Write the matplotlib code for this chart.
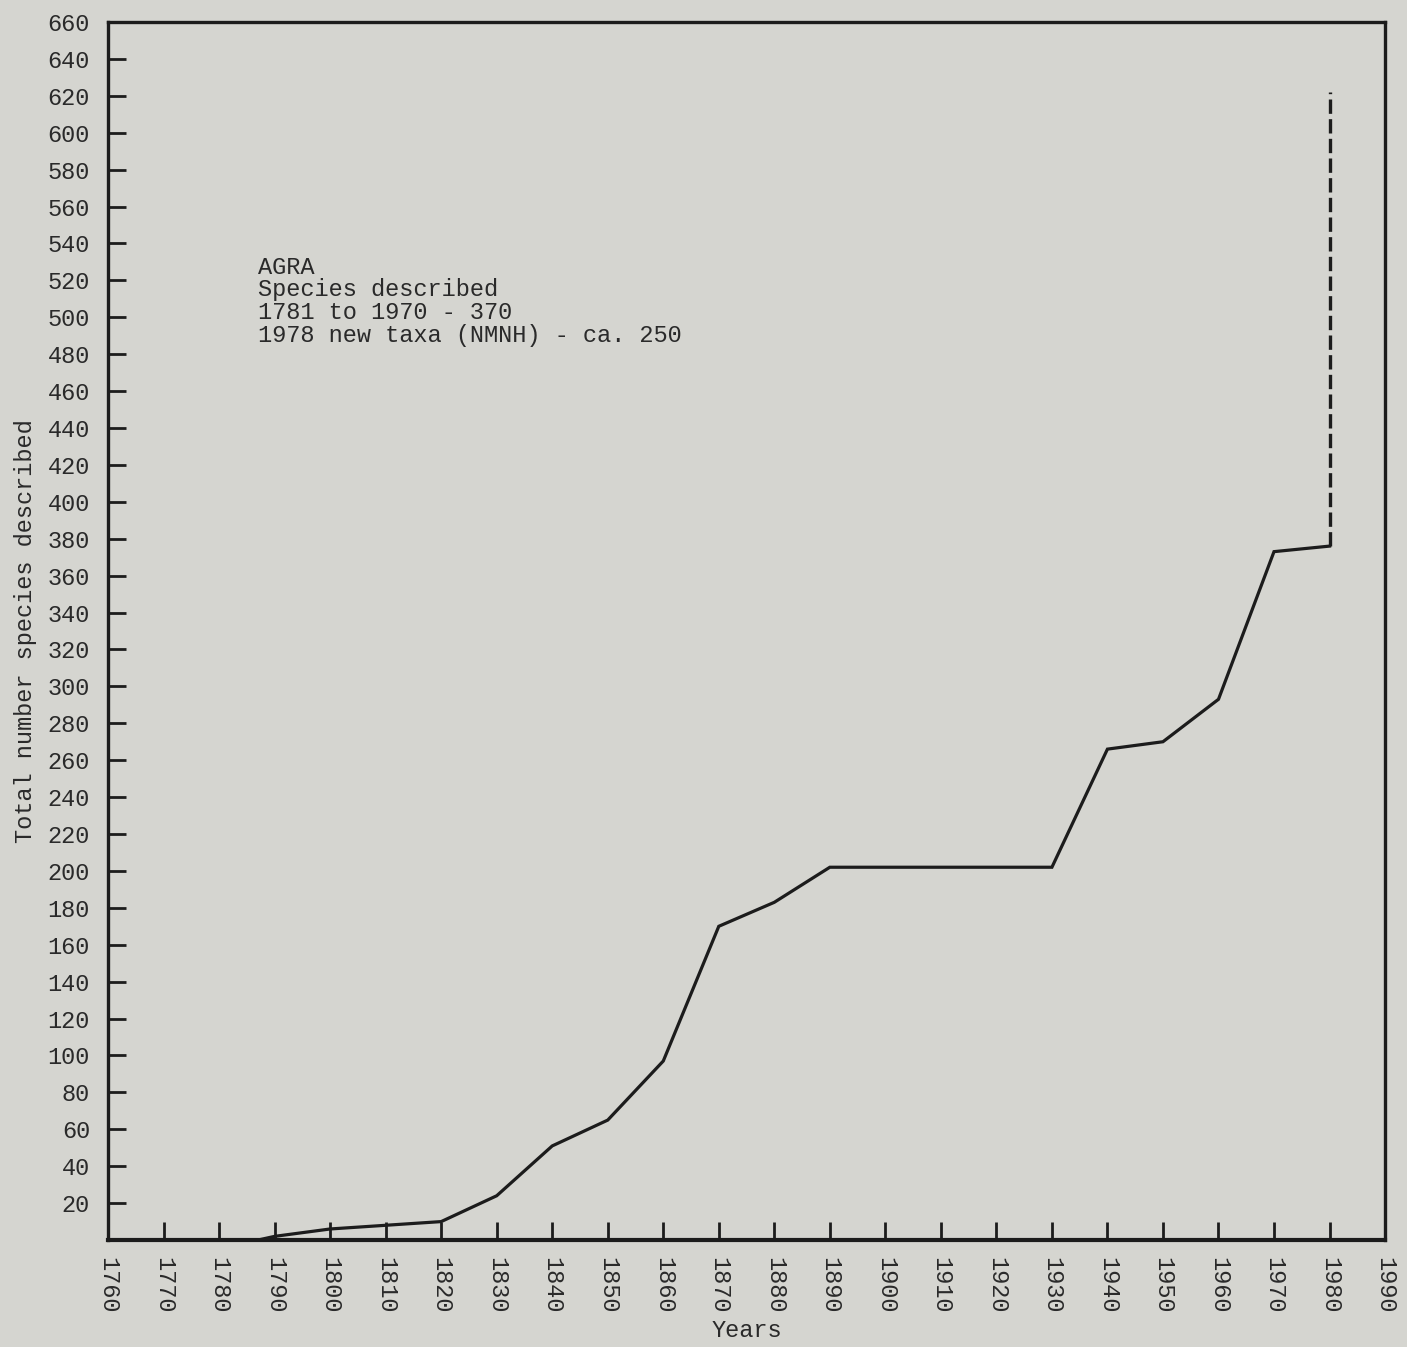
import matplotlib.pyplot as plt
import numpy as np

# Cumulative species of Agra described
years = [1760, 1780, 1787, 1790, 1800, 1810, 1820, 1830, 1840, 1850, 1860,
         1870, 1880, 1890, 1900, 1910, 1920, 1930, 1940, 1950, 1960, 1970, 1980]
totals = [0, 0, 0, 2, 6, 8, 10, 24, 51, 65, 97,
          170, 183, 202, 202, 202, 202, 202, 266, 270, 293, 373, 376]

# 1978 new taxa (NMNH) jump, drawn dashed
new_taxa_year = [1980, 1980]
new_taxa_totals = [376, 622]

x_ticks = list(range(1760, 2000, 10))
y_ticks = list(range(20, 680, 20))

note = ("AGRA\n"
        "Species described\n"
        "1781 to 1970 - 370\n"
        "1978 new taxa (NMNH) - ca. 250")

bg = '#d5d5d0'
ink = '#1c1c1c'
plt.rcParams['font.family'] = ['Liberation Mono', 'DejaVu Sans Mono']
plt.rcParams['text.color'] = '#2a2a2a'


def main():
    fig = plt.figure(figsize=(14.07, 13.47), dpi=100, facecolor=bg)
    ax = fig.add_axes([0.0768, 0.0794, 0.9076, 0.9043], facecolor=bg)

    ax.plot(years, totals, color=ink, lw=2.3, solid_joinstyle='miter')
    ax.plot(new_taxa_year, new_taxa_totals, color=ink, lw=2.4,
            dashes=(4.3, 1.6), dash_capstyle='butt')

    ax.set_xlim(1760, 1990)
    ax.set_ylim(0, 660)
    ax.set_xticks(x_ticks)
    ax.set_yticks(y_ticks)
    ax.set_xticklabels([str(v) for v in x_ticks], rotation=270, fontsize=17,
                       color='#2a2a2a')
    ax.set_yticklabels([str(v) for v in y_ticks], fontsize=17, color='#2a2a2a')
    ax.tick_params(axis='x', direction='in', length=13, width=2.0, color=ink,
                   pad=12)
    ax.tick_params(axis='y', direction='in', length=13, width=2.0, color=ink,
                   pad=13)

    for side in ax.spines.values():
        side.set_color(ink)
        side.set_linewidth(2.4)
    ax.spines['bottom'].set_linewidth(3.0)

    ax.set_xlabel('Years', fontsize=17, labelpad=4, color='#2a2a2a')
    ax.set_ylabel('Total number species described', fontsize=17,
                  labelpad=8, color='#2a2a2a')

    ax.text(0.1175, 0.808, note, transform=ax.transAxes, fontsize=17,
            va='top', ha='left', linespacing=0.98)

    fig.savefig('out.png', dpi=100, facecolor=bg)


if __name__ == "__main__":
    main()
